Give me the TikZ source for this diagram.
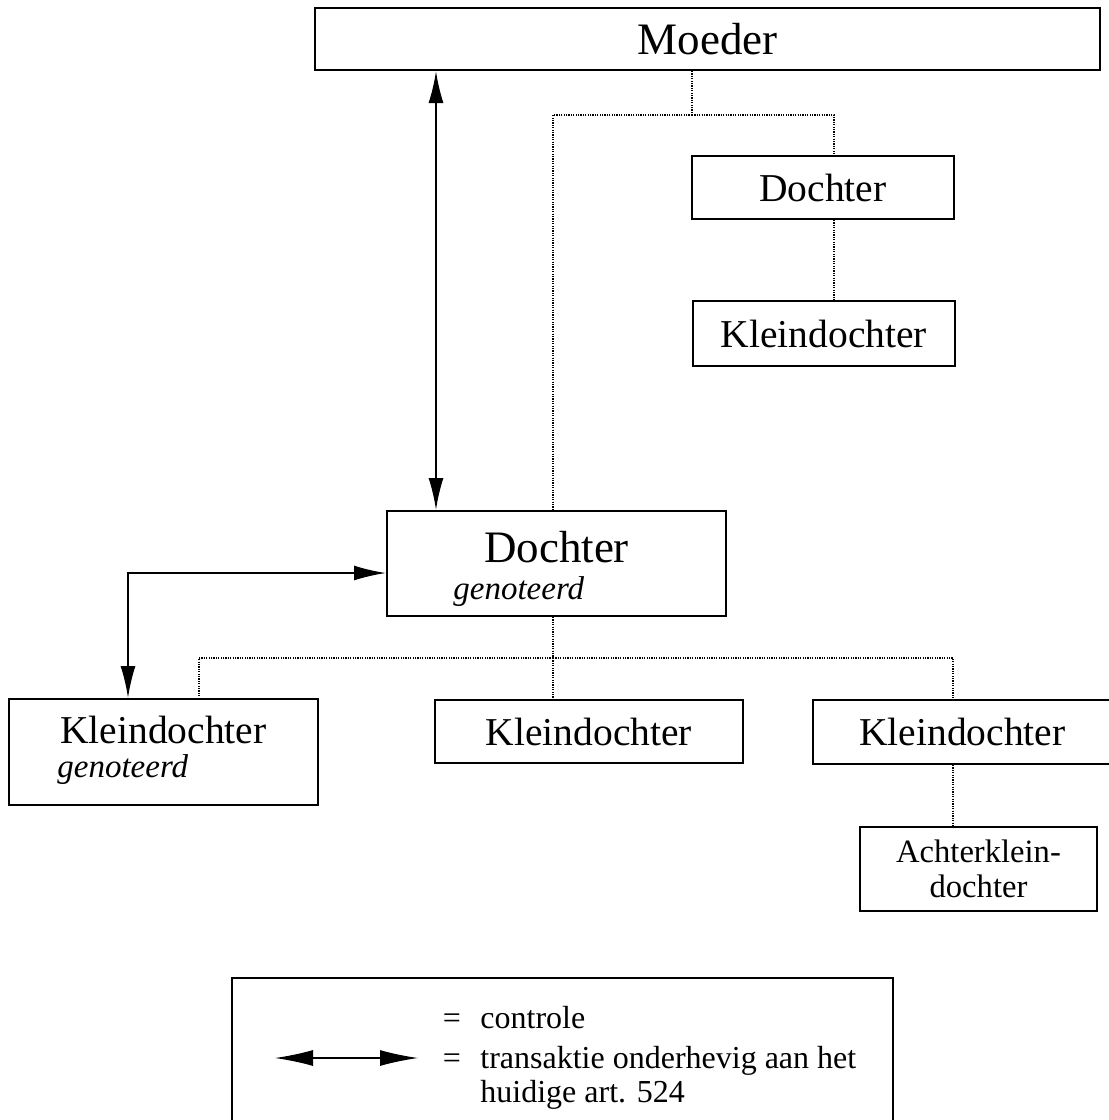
\documentclass[tikz,border=0pt]{standalone}
\usepackage{fontspec}
\setmainfont{Liberation Serif}
\usetikzlibrary{arrows.meta}
\newcommand\fbig{\fontsize{22.5pt}{26pt}\selectfont}
\newcommand\fmid{\fontsize{19.75pt}{23pt}\selectfont}
\newcommand\fgen{\fontsize{16.5pt}{19pt}\selectfont\itshape}
\newcommand\fsml{\fontsize{16.3pt}{17.5pt}\selectfont}
\newcommand\fleg{\fontsize{16pt}{17pt}\selectfont}
\begin{document}
\begin{tikzpicture}[x=0.5pt,y=-0.5pt,
  box/.style={draw,line width=1pt,inner sep=0pt},
  ctrl/.style={line width=0.75pt,dash pattern=on 0.6pt off 0.6pt},
  trans/.style={line width=1pt,{Latex[length=16pt,width=7.5pt]}-{Latex[length=16pt,width=7.5pt]}},
  transleg/.style={line width=0.6pt,{Latex[length=19pt,width=8pt]}-{Latex[length=19pt,width=8pt]}},
  lbl/.style={inner sep=0pt}]
\useasboundingbox (0,0) rectangle (1109,1120);
\begin{scope}
\clip (0,0) rectangle (1109,1120);
% boxes
\node[box,minimum width=392.5pt,minimum height=31pt] (moeder) at (707.5,39) {\fbig Moeder};
\node[box,minimum width=131pt,minimum height=31.5pt] (d1) at (823,187.5) {\fmid Dochter};
\node[box,minimum width=131pt,minimum height=32.5pt] (k1) at (824,333.5) {\fmid Kleindochter};
\node[box,minimum width=169.5pt,minimum height=52.5pt] (dg) at (556.5,563.5) {};
\node[lbl,anchor=base] (dgt) at (556.5,562) {\fbig Dochter};
\node[lbl,anchor=base west] (dgs) at (453,599) {\fgen genoteerd};
\node[box,minimum width=154.5pt,minimum height=53pt] (kg) at (163.5,752) {};
\node[lbl,anchor=base] (kgt) at (163.5,743) {\fmid Kleindochter};
\node[lbl,anchor=base west] (kgs) at (57,777) {\fgen genoteerd};
\node[box,minimum width=154pt,minimum height=31.5pt] (k2) at (589,731.5) {\fmid Kleindochter};
\node[box,minimum width=149.5pt,minimum height=32pt] (k3) at (962.5,732) {\fmid Kleindochter};
\node[box,minimum width=118.5pt,minimum height=42pt,align=center,font=\fsml] (ak) at (978.5,869) {Achterklein-\\dochter};
% control (dotted) lines
\coordinate (j0) at (692,115);
\coordinate (j1) at (553,658);
\coordinate (j2) at (953,658);
\draw[ctrl] (moeder.south -| j0) -- (j0);
\draw[ctrl] (j0) -| (dg.north -| j1);
\draw[ctrl] (j0) -| (d1.north -| 834,0);
\draw[ctrl] (d1.south -| 834,0) -- (k1.north -| 834,0);
\draw[ctrl] (dg.south -| j1) -- (j1);
\draw[ctrl] (j1) -| (kg.north -| 199,0);
\draw[ctrl] (j1) -- (k2.north -| j1);
\draw[ctrl] (j1) -- (j2) -- (k3.north -| j2);
\draw[ctrl] (k3.south -| j2) -- (ak.north -| j2);
% transactions
\draw[trans] (moeder.south -| 436,0) -- (dg.north -| 436,0);
\draw[trans] (dg.west |- 0,573) -| (kg.north -| 128,0);
% legend
\node[box,minimum width=330.5pt,minimum height=86pt] (leg) at (562.5,1064) {};
\coordinate (la) at (275,1058);
\coordinate (lb) at (418,1058);
\draw[transleg] (la) -- (lb);
\node[lbl,anchor=base] (eq1) at (452,1028) {\fleg =};
\node[lbl,anchor=base west] (l1) at (480,1028) {\fleg controle};
\node[lbl,anchor=base] (eq2) at (452,1068) {\fleg =};
\node[lbl,anchor=base west] (l2) at (480,1068) {\fleg transaktie onderhevig aan het};
\node[lbl,anchor=base west] (l3) at (480,1102) {\fleg huidige art. 524};
\end{scope}
\end{tikzpicture}
\end{document}
